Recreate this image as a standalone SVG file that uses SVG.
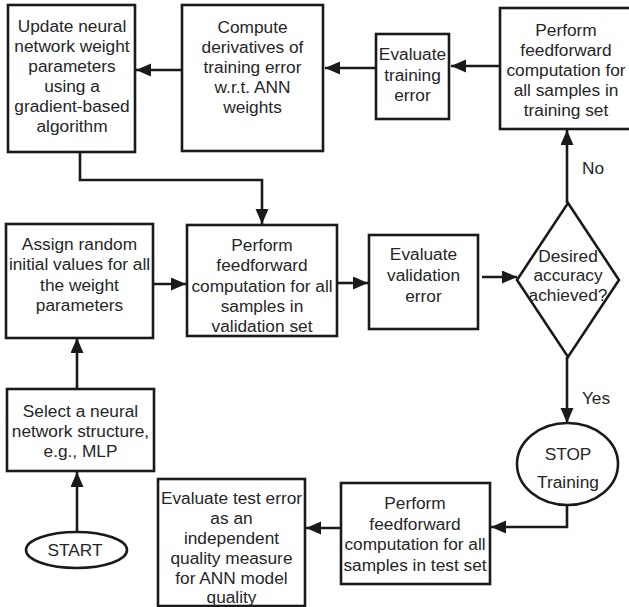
<svg xmlns="http://www.w3.org/2000/svg" width="629" height="607" viewBox="0 0 629 607">
  <style>
    .box { fill: #ffffff; stroke: #1a1a1a; stroke-width: 2.6; }
    .lbl { font-family: "Liberation Sans", Arial, sans-serif; font-size: 17.3px; fill: #262626; text-anchor: middle; }
    .wire { fill: none; stroke: #1a1a1a; stroke-width: 2.6; }
  </style>
  <defs>
    <marker id="arrow" markerUnits="userSpaceOnUse" markerWidth="16" markerHeight="14" refX="15" refY="6.5" orient="auto">
      <path d="M0,0 L15,6.5 L0,13 z" fill="#1a1a1a"/>
    </marker>
  </defs>
  <rect width="629" height="607" fill="#ffffff"/>

  <!-- connectors -->
  <g id="connectors">
    <line class="wire" x1="182" y1="70" x2="136" y2="70" marker-end="url(#arrow)"/>
    <line class="wire" x1="376" y1="68" x2="325" y2="68" marker-end="url(#arrow)"/>
    <line class="wire" x1="500" y1="66" x2="451" y2="66" marker-end="url(#arrow)"/>
    <line class="wire" x1="567" y1="203" x2="567" y2="130" marker-end="url(#arrow)"/>
    <path class="wire" d="M80,152 V180 H262 V224" marker-end="url(#arrow)"/>
    <line class="wire" x1="153" y1="284" x2="186" y2="284" marker-end="url(#arrow)"/>
    <line class="wire" x1="337" y1="283" x2="368" y2="283" marker-end="url(#arrow)"/>
    <line class="wire" x1="482" y1="277" x2="517" y2="277" marker-end="url(#arrow)"/>
    <line class="wire" x1="567" y1="357" x2="567" y2="423" marker-end="url(#arrow)"/>
    <path class="wire" d="M567,505 V527 H491" marker-end="url(#arrow)"/>
    <line class="wire" x1="341" y1="528" x2="306" y2="528" marker-end="url(#arrow)"/>
    <line class="wire" x1="77" y1="389" x2="77" y2="338" marker-end="url(#arrow)"/>
    <line class="wire" x1="77" y1="532" x2="77" y2="472" marker-end="url(#arrow)"/>
    <text class="lbl" x="593" y="174">No</text>
    <text class="lbl" x="596" y="404">Yes</text>
  </g>

  <g id="update-weights">
    <rect class="box" x="8" y="5" width="127" height="147"/>
    <text class="lbl" x="72" y="32">Update neural</text>
    <text class="lbl" x="72" y="52">network weight</text>
    <text class="lbl" x="72" y="72">parameters</text>
    <text class="lbl" x="72" y="92">using a</text>
    <text class="lbl" x="72" y="112">gradient-based</text>
    <text class="lbl" x="72" y="132">algorithm</text>
  </g>

  <g id="compute-derivatives">
    <rect class="box" x="182" y="5" width="141" height="146"/>
    <text class="lbl" x="252.5" y="33">Compute</text>
    <text class="lbl" x="252.5" y="53">derivatives of</text>
    <text class="lbl" x="252.5" y="73">training error</text>
    <text class="lbl" x="252.5" y="93">w.r.t. ANN</text>
    <text class="lbl" x="252.5" y="113">weights</text>
  </g>

  <g id="eval-training">
    <rect class="box" x="376" y="34" width="73" height="85"/>
    <text class="lbl" x="412.5" y="60">Evaluate</text>
    <text class="lbl" x="412.5" y="80.5">training</text>
    <text class="lbl" x="412.5" y="101">error</text>
  </g>

  <g id="ff-training">
    <rect class="box" x="500" y="8" width="132" height="121"/>
    <text class="lbl" x="566" y="36">Perform</text>
    <text class="lbl" x="566" y="56">feedforward</text>
    <text class="lbl" x="566" y="76">computation for</text>
    <text class="lbl" x="566" y="96">all samples in</text>
    <text class="lbl" x="566" y="116">training set</text>
  </g>

  <g id="assign-random">
    <rect class="box" x="6" y="224" width="147" height="114"/>
    <text class="lbl" x="79.5" y="249.5">Assign random</text>
    <text class="lbl" x="79.5" y="270">initial values for all</text>
    <text class="lbl" x="79.5" y="290.5">the weight</text>
    <text class="lbl" x="79.5" y="311">parameters</text>
  </g>

  <g id="ff-validation">
    <rect class="box" x="187" y="225" width="150" height="111"/>
    <text class="lbl" x="262" y="251">Perform</text>
    <text class="lbl" x="262" y="271">feedforward</text>
    <text class="lbl" x="262" y="291.5">computation for all</text>
    <text class="lbl" x="262" y="312">samples in</text>
    <text class="lbl" x="262" y="332">validation set</text>
  </g>

  <g id="eval-validation">
    <rect class="box" x="369" y="235" width="109" height="94"/>
    <text class="lbl" x="423.5" y="260">Evaluate</text>
    <text class="lbl" x="423.5" y="281">validation</text>
    <text class="lbl" x="423.5" y="302">error</text>
  </g>

  <g id="accuracy-check">
    <polygon class="box" points="568,203 619,280 568,357 517,280"/>
    <text class="lbl" x="568" y="262">Desired</text>
    <text class="lbl" x="568" y="281">accuracy</text>
    <text class="lbl" x="568" y="301">achieved?</text>
  </g>

  <g id="stop-training">
    <ellipse class="box" cx="567.5" cy="464" rx="50.5" ry="41"/>
    <text class="lbl" x="568" y="460">STOP</text>
    <text class="lbl" x="568" y="488">Training</text>
  </g>

  <g id="ff-test">
    <rect class="box" x="341" y="483" width="149" height="101"/>
    <text class="lbl" x="415" y="509">Perform</text>
    <text class="lbl" x="415" y="529.5">feedforward</text>
    <text class="lbl" x="415" y="550">computation for all</text>
    <text class="lbl" x="415" y="570.5">samples in test set</text>
  </g>

  <g id="eval-test">
    <rect class="box" x="158" y="479" width="147" height="127"/>
    <text class="lbl" x="231.5" y="504">Evaluate test error</text>
    <text class="lbl" x="231.5" y="524">as an</text>
    <text class="lbl" x="231.5" y="544">independent</text>
    <text class="lbl" x="231.5" y="564">quality measure</text>
    <text class="lbl" x="231.5" y="584">for ANN model</text>
    <text class="lbl" x="231.5" y="603">quality</text>
  </g>

  <g id="select-structure">
    <rect class="box" x="7" y="389" width="147" height="82"/>
    <text class="lbl" x="80.5" y="416.5">Select a neural</text>
    <text class="lbl" x="80.5" y="437">network structure,</text>
    <text class="lbl" x="80.5" y="457">e.g., MLP</text>
  </g>

  <g id="start">
    <ellipse class="box" cx="76.5" cy="550" rx="50.5" ry="18"/>
    <text class="lbl" x="75" y="556">START</text>
  </g>
</svg>
